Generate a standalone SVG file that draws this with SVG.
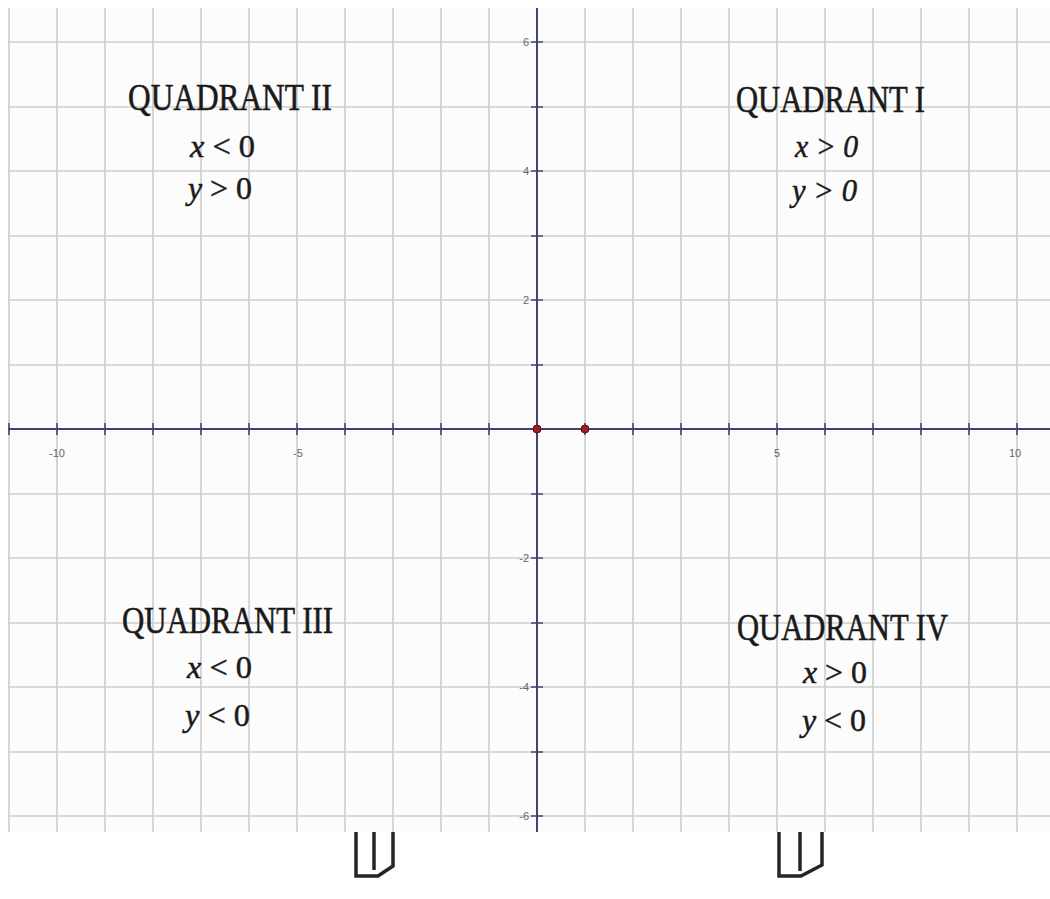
<svg xmlns="http://www.w3.org/2000/svg" width="1050" height="899" viewBox="0 0 1050 899">
<style>
.grid line{stroke:#cfcfcf;stroke-width:1.7}
.axis{stroke:#43436f;stroke-width:2}
.tick{stroke:#43436f;stroke-width:1.6}
.tl{font-family:"Liberation Sans",Arial,sans-serif;font-size:11px;fill:#666}
.hd{font-family:"Liberation Serif","Times New Roman",serif;font-size:38px;fill:#1a1a1a;stroke:#1a1a1a;stroke-width:0.6}
.ex{font-family:"Liberation Serif","Times New Roman",serif;font-size:32px;fill:#1a1a1a;stroke:#1a1a1a;stroke-width:0.5}
.it{font-style:italic}
.icon{fill:none;stroke:#262626;stroke-width:3.5;stroke-linejoin:miter}
</style>
<rect x="0" y="0" width="1050" height="899" fill="#ffffff"/>
<rect x="8" y="8" width="1042" height="824" fill="#fcfcfc"/>
<g class="grid" id="grid">
<line x1="9" y1="8" x2="9" y2="832"/>
<line x1="57" y1="8" x2="57" y2="832"/>
<line x1="105" y1="8" x2="105" y2="832"/>
<line x1="153" y1="8" x2="153" y2="832"/>
<line x1="201" y1="8" x2="201" y2="832"/>
<line x1="249" y1="8" x2="249" y2="832"/>
<line x1="297" y1="8" x2="297" y2="832"/>
<line x1="345" y1="8" x2="345" y2="832"/>
<line x1="393" y1="8" x2="393" y2="832"/>
<line x1="441" y1="8" x2="441" y2="832"/>
<line x1="489" y1="8" x2="489" y2="832"/>
<line x1="585" y1="8" x2="585" y2="832"/>
<line x1="633" y1="8" x2="633" y2="832"/>
<line x1="681" y1="8" x2="681" y2="832"/>
<line x1="729" y1="8" x2="729" y2="832"/>
<line x1="777" y1="8" x2="777" y2="832"/>
<line x1="825" y1="8" x2="825" y2="832"/>
<line x1="873" y1="8" x2="873" y2="832"/>
<line x1="921" y1="8" x2="921" y2="832"/>
<line x1="969" y1="8" x2="969" y2="832"/>
<line x1="1017" y1="8" x2="1017" y2="832"/>
<line x1="8" y1="42" x2="1050" y2="42"/>
<line x1="8" y1="107" x2="1050" y2="107"/>
<line x1="8" y1="171" x2="1050" y2="171"/>
<line x1="8" y1="236" x2="1050" y2="236"/>
<line x1="8" y1="300" x2="1050" y2="300"/>
<line x1="8" y1="365" x2="1050" y2="365"/>
<line x1="8" y1="494" x2="1050" y2="494"/>
<line x1="8" y1="558" x2="1050" y2="558"/>
<line x1="8" y1="623" x2="1050" y2="623"/>
<line x1="8" y1="687" x2="1050" y2="687"/>
<line x1="8" y1="752" x2="1050" y2="752"/>
<line x1="8" y1="816" x2="1050" y2="816"/>
</g>
<g id="axes">
<line class="axis" x1="8" y1="429" x2="1050" y2="429"/>
<line class="axis" x1="537" y1="8" x2="537" y2="832"/>
<path class="tick" d="M9 423v12M57 423v12M105 423v12M153 423v12M201 423v12M249 423v12M297 423v12M345 423v12M393 423v12M441 423v12M489 423v12M585 423v12M633 423v12M681 423v12M729 423v12M777 423v12M825 423v12M873 423v12M921 423v12M969 423v12M1017 423v12"/>
<path class="tick" d="M531 42h12M531 107h12M531 171h12M531 236h12M531 300h12M531 365h12M531 494h12M531 558h12M531 623h12M531 687h12M531 752h12M531 816h12"/>
<text class="tl" x="57" y="457" text-anchor="middle">-10</text>
<text class="tl" x="298" y="457" text-anchor="middle">-5</text>
<text class="tl" x="777" y="457" text-anchor="middle">5</text>
<text class="tl" x="1015" y="457" text-anchor="middle">10</text>
<text class="tl" x="529" y="46" text-anchor="end">6</text>
<text class="tl" x="529" y="175" text-anchor="end">4</text>
<text class="tl" x="529" y="304" text-anchor="end">2</text>
<text class="tl" x="529" y="562" text-anchor="end">-2</text>
<text class="tl" x="529" y="691" text-anchor="end">-4</text>
<text class="tl" x="529" y="820" text-anchor="end">-6</text>
</g>
<g id="points">
<circle cx="537" cy="429" r="4" fill="#9a1f25" stroke="#5a1014" stroke-width="1"/>
<circle cx="585" cy="429" r="4" fill="#9a1f25" stroke="#5a1014" stroke-width="1"/>
</g>
<g id="quadrant-2">
<text class="hd" x="128" y="110" textLength="204" lengthAdjust="spacingAndGlyphs">QUADRANT II</text>
<text class="ex" x="190" y="157" textLength="65" lengthAdjust="spacingAndGlyphs"><tspan class="it">x</tspan> &lt; 0</text>
<text class="ex" x="188" y="199" textLength="64" lengthAdjust="spacingAndGlyphs"><tspan class="it">y</tspan> &gt; 0</text>
</g>
<g id="quadrant-1">
<text class="hd" x="736" y="112" textLength="189" lengthAdjust="spacingAndGlyphs">QUADRANT I</text>
<text class="ex it" x="795" y="157" textLength="63" lengthAdjust="spacingAndGlyphs">x &gt; 0</text>
<text class="ex it" x="792" y="201" textLength="65" lengthAdjust="spacingAndGlyphs">y &gt; 0</text>
</g>
<g id="quadrant-3">
<text class="hd" x="122" y="633" textLength="211" lengthAdjust="spacingAndGlyphs">QUADRANT III</text>
<text class="ex" x="187" y="678" textLength="65" lengthAdjust="spacingAndGlyphs"><tspan class="it">x</tspan> &lt; 0</text>
<text class="ex" x="185" y="726" textLength="65" lengthAdjust="spacingAndGlyphs"><tspan class="it">y</tspan> &lt; 0</text>
</g>
<g id="quadrant-4">
<text class="hd" x="737" y="640" textLength="211" lengthAdjust="spacingAndGlyphs">QUADRANT IV</text>
<text class="ex" x="803" y="683" textLength="64" lengthAdjust="spacingAndGlyphs"><tspan class="it">x</tspan> &gt; 0</text>
<text class="ex" x="802" y="731" textLength="64" lengthAdjust="spacingAndGlyphs"><tspan class="it">y</tspan> &lt; 0</text>
</g>
<g id="marks">
<path class="icon" d="M356 832V876H378L393 866V832"/>
<path class="icon" d="M374 832V870" stroke-width="3"/>
<path class="icon" d="M779 832V876H801L822 865V832"/>
<path class="icon" d="M800 832V871" stroke-width="3"/>
</g>
</svg>
